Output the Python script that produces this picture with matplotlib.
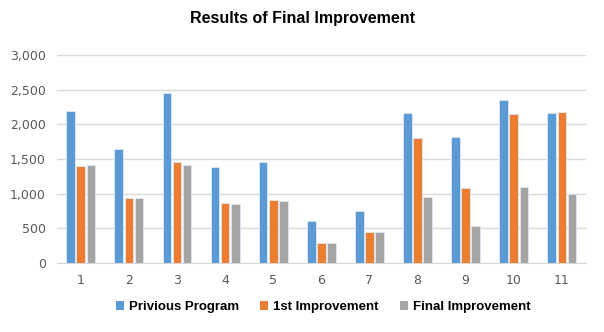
import numpy as np
import matplotlib.pyplot as plt

categories = ['1', '2', '3', '4', '5', '6', '7', '8', '9', '10', '11']
previous = [2200, 1650, 2450, 1380, 1450, 610, 755, 2165, 1825, 2345, 2165]
first_imp = [1400, 935, 1450, 860, 915, 295, 440, 1810, 1075, 2150, 2180]
final_imp = [1410, 935, 1410, 845, 895, 295, 440, 955, 540, 1100, 990]
series_names = ['Privious Program', '1st Improvement', 'Final Improvement']
colors = ['#5B9BD5', '#ED7D31', '#A5A5A5']

fig = plt.figure(figsize=(6.04, 3.32), dpi=100)
ax = fig.add_axes([0.094, 0.208, 0.876, 0.626])

x = np.arange(len(categories))
w = 0.18
step = 0.21
for i, (vals, name, c) in enumerate(zip([previous, first_imp, final_imp], series_names, colors)):
    ax.bar(x + (i - 1) * step, vals, w, color=c, label=name,
           edgecolor='#DCE9F5', linewidth=0.6, zorder=3)

ax.set_xlim(-0.5, len(categories) - 0.5)
ax.set_ylim(0, 3000)
ax.set_yticks(np.arange(0, 3001, 500))
ax.set_yticklabels([f'{v:,}' for v in range(0, 3001, 500)])
ax.set_xticks(x)
ax.set_xticklabels(categories)
ax.yaxis.grid(True, color='#D9D9D9', linewidth=1, zorder=0)
for s in ['top', 'right', 'left']:
    ax.spines[s].set_visible(False)
ax.spines['bottom'].set_color('#D9D9D9')
ax.tick_params(axis='both', length=0, labelsize=9, colors='#595959', pad=8)

fig.text(0.5, 0.945, 'Results of Final Improvement', ha='center', va='center',
         fontsize=11.5, fontweight='bold', family=['Liberation Sans', 'DejaVu Sans'])

leg = fig.legend(loc='center', bbox_to_anchor=(0.535, 0.075), ncol=3, frameon=False,
                 handlelength=0.6, handleheight=0.6, handletextpad=0.4, columnspacing=1.6,
                 prop={'family': ['Liberation Sans', 'DejaVu Sans'],
                       'weight': 'bold', 'size': 9.5})
for h in leg.legend_handles:
    h.set_edgecolor('none')

fig.savefig('out.png', dpi=100)
